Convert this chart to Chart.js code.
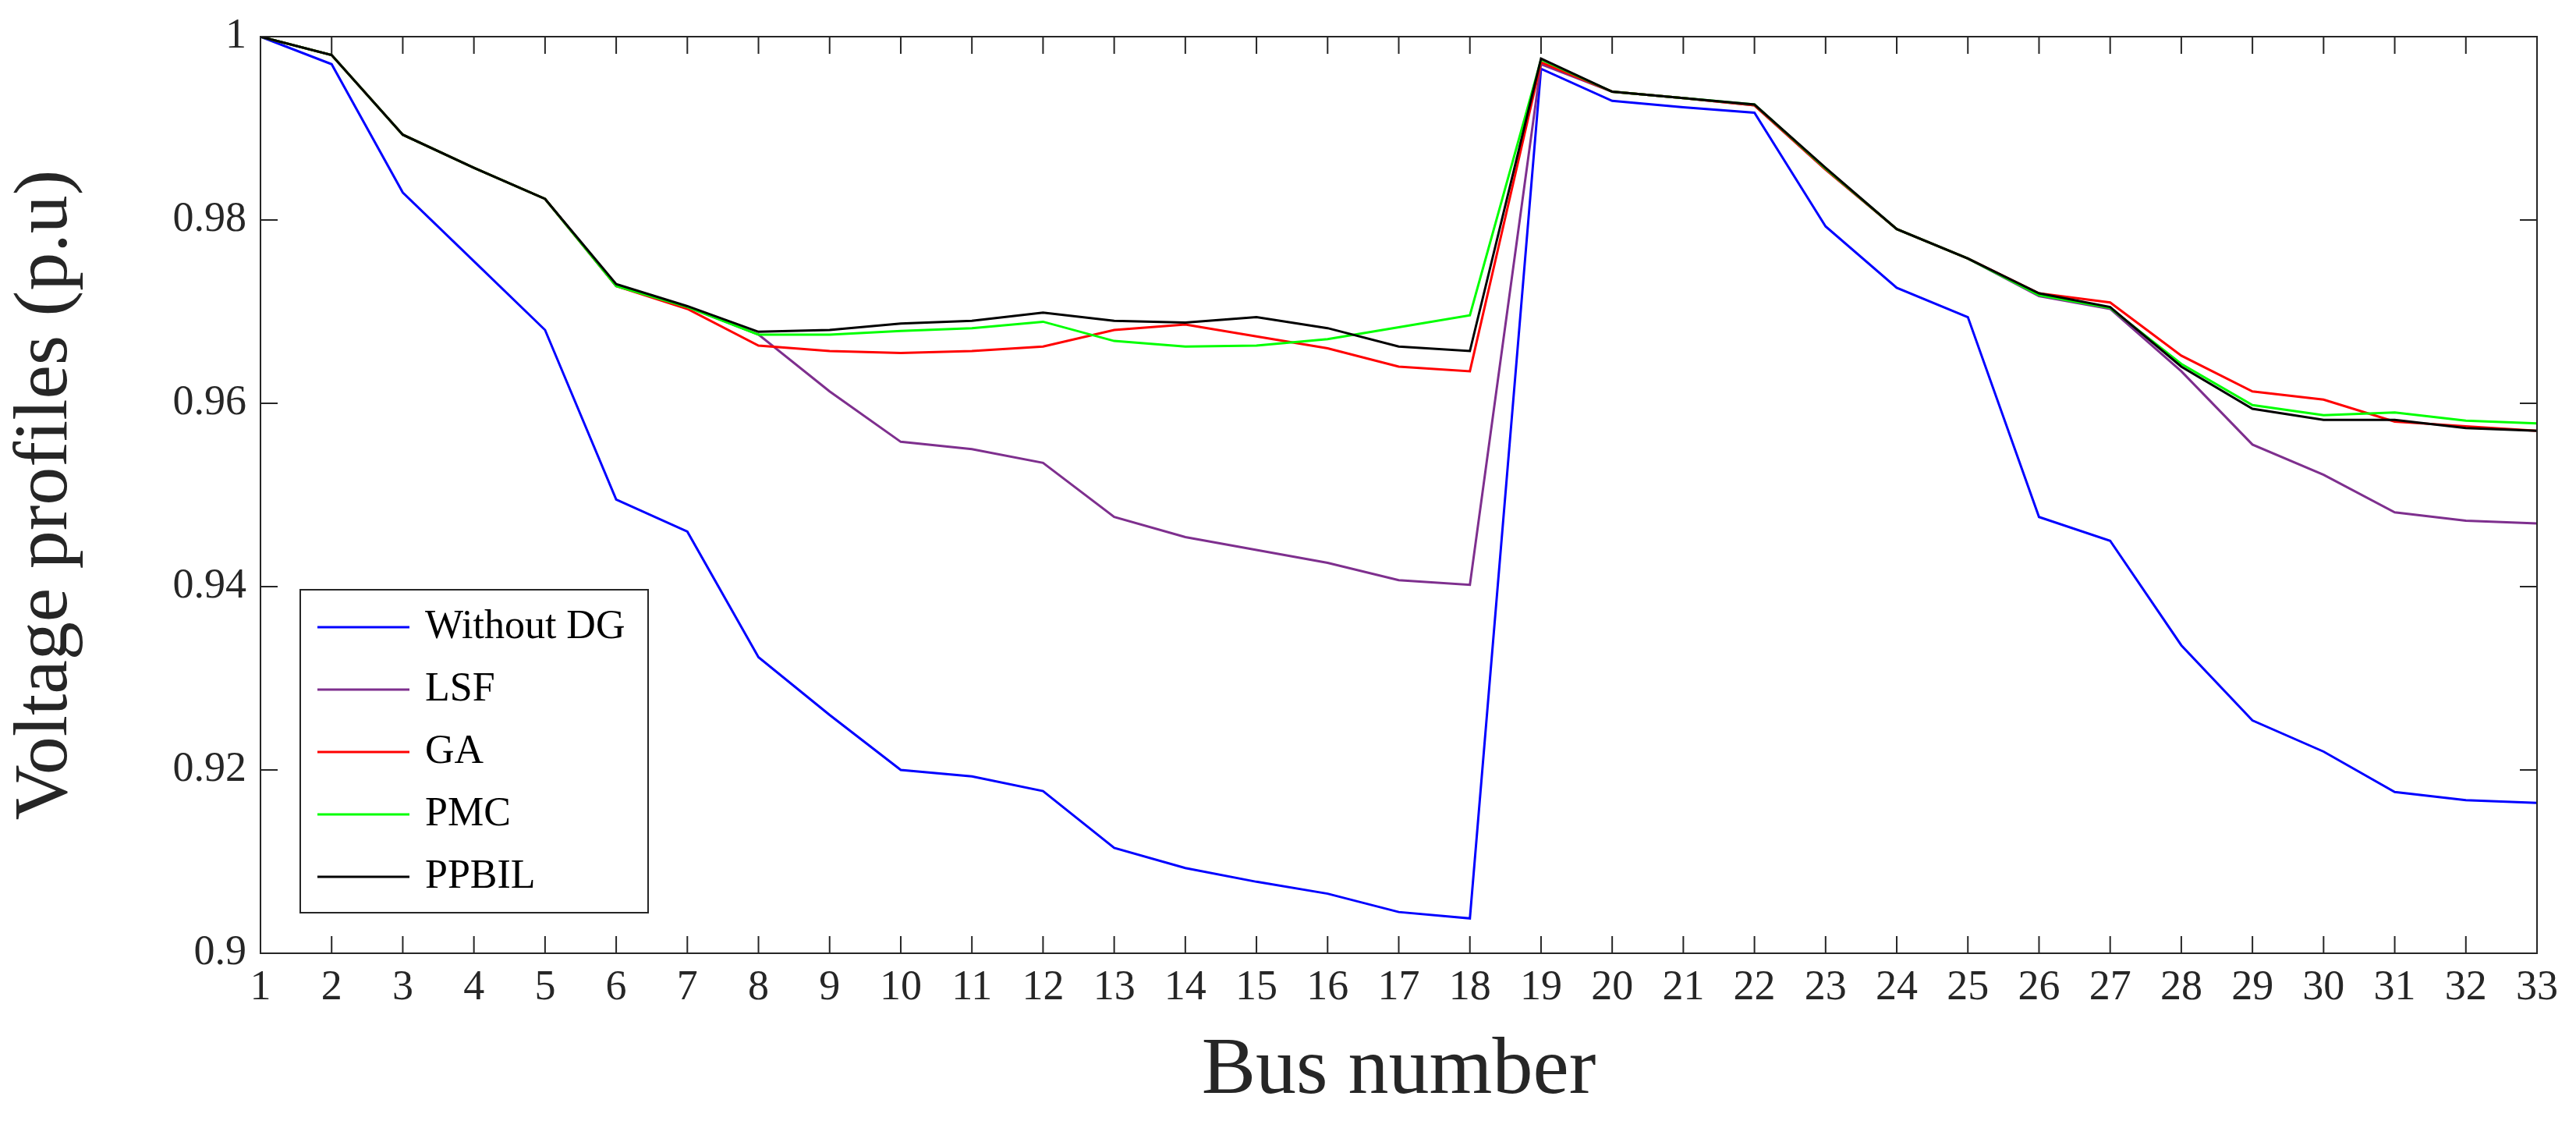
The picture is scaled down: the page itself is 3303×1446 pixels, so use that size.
<!DOCTYPE html>
<html>
<head>
<meta charset="utf-8">
<script src="https://cdn.jsdelivr.net/npm/chart.js@4/dist/chart.umd.min.js"></script>
<style>
  html, body { margin: 0; padding: 0; background: #fff; }
  #wrap { width: 3303px; height: 1446px; }
</style>
</head>
<body>
<div id="wrap"><canvas id="volt"></canvas></div>
<script>
const buses = Array.from({ length: 33 }, (_, i) => String(i + 1));

const withoutDG = [1.0, 0.997, 0.983, 0.9755, 0.968, 0.9495, 0.946, 0.9323, 0.926, 0.920, 0.9193, 0.9177, 0.9115,
    0.9093, 0.9078, 0.9065, 0.9045, 0.9038, 0.9965, 0.993, 0.9923, 0.9917, 0.9793, 0.9726, 0.9694, 0.9476, 0.945,
    0.9336, 0.9254, 0.922, 0.9176, 0.9167, 0.9164];
const lsf = [1.0, 0.998, 0.9893, 0.9857, 0.9823, 0.9728, 0.9705, 0.9675, 0.9613, 0.9558, 0.955, 0.9535, 0.9476,
    0.9454, 0.944, 0.9426, 0.9407, 0.9402, 0.997, 0.994, 0.9933, 0.9925, 0.9855, 0.979, 0.9758, 0.9717, 0.9703,
    0.9635, 0.9555, 0.9522, 0.9481, 0.9472, 0.9469];
const ga = [1.0, 0.998, 0.9893, 0.9857, 0.9823, 0.9728, 0.9703, 0.9663, 0.9657, 0.9655, 0.9657, 0.9662, 0.968,
    0.9686, 0.9673, 0.966, 0.964, 0.9635, 0.9972, 0.994, 0.9933, 0.9925, 0.9855, 0.979, 0.9758, 0.972, 0.971,
    0.9652, 0.9613, 0.9604, 0.958, 0.9575, 0.957];
const pmc = [1.0, 0.998, 0.9893, 0.9857, 0.9823, 0.9728, 0.9705, 0.9675, 0.9675, 0.9679, 0.9682, 0.9689, 0.9668,
    0.9662, 0.9663, 0.967, 0.9683, 0.9696, 0.9975, 0.994, 0.9933, 0.9926, 0.9856, 0.979, 0.9758, 0.9718, 0.9704,
    0.9643, 0.9598, 0.9587, 0.959, 0.9581, 0.9578];
const ppbil = [1.0, 0.998, 0.9893, 0.9857, 0.9823, 0.973, 0.9706, 0.9678, 0.968, 0.9687, 0.969, 0.9699, 0.969,
    0.9688, 0.9694, 0.9682, 0.9662, 0.9657, 0.9976, 0.994, 0.9933, 0.9926, 0.9857, 0.979, 0.9758, 0.972, 0.9705,
    0.964, 0.9594, 0.9582, 0.9582, 0.9573, 0.957];

const seriesNames = ["Without DG", "LSF", "GA", "PMC", "PPBIL"];
const seriesColors = ["#0000ff", "#7e2f8e", "#ff0000", "#00ff00", "#000000"];
const seriesValues = [withoutDG, lsf, ga, pmc, ppbil];
const yTicks = [0.9, 0.92, 0.94, 0.96, 0.98, 1];

const FONT = "'Liberation Serif', 'Times New Roman', serif";

// frame, inward ticks and an inside legend like MATLAB
const framePlugin = {
    id: "frame",
    afterDraw(chart) {
        const { ctx, chartArea: a, scales } = chart;
        ctx.save();
        ctx.strokeStyle = "#262626";
        ctx.lineWidth = 2;
        ctx.strokeRect(a.left, a.top, a.right - a.left, a.bottom - a.top);
        const t = 22;
        ctx.beginPath();
        buses.forEach((b, i) => {
            const x = scales.x.getPixelForValue(i);
            ctx.moveTo(x, a.bottom); ctx.lineTo(x, a.bottom - t);
            ctx.moveTo(x, a.top); ctx.lineTo(x, a.top + t);
        });
        yTicks.forEach(v => {
            const y = scales.y.getPixelForValue(v);
            ctx.moveTo(a.left, y); ctx.lineTo(a.left + t, y);
            ctx.moveTo(a.right, y); ctx.lineTo(a.right - t, y);
        });
        ctx.stroke();

        // legend box
        const bx = 385, by = 756, bw = 446, bh = 414;
        ctx.fillStyle = "#fff";
        ctx.fillRect(bx, by, bw, bh);
        ctx.strokeStyle = "#262626";
        ctx.lineWidth = 2;
        ctx.strokeRect(bx, by, bw, bh);
        ctx.font = "52px " + FONT;
        ctx.textBaseline = "middle";
        chart.data.datasets.forEach((ds, i) => {
            const y = by + 48 + i * 80;
            ctx.strokeStyle = ds.borderColor;
            ctx.lineWidth = 3;
            ctx.beginPath();
            ctx.moveTo(bx + 22, y); ctx.lineTo(bx + 140, y);
            ctx.stroke();
            ctx.fillStyle = "#000";
            ctx.fillText(ds.label, bx + 160, y);
        });
        ctx.restore();
    }
};

new Chart(document.getElementById("volt"), {
    type: "line",
    data: {
        labels: buses,
        datasets: seriesNames.map((name, i) => ({
            label: name,
            data: seriesValues[i],
            borderColor: seriesColors[i],
            borderWidth: 3,
            pointRadius: 0,
            tension: 0,
            fill: false,
            order: seriesNames.length - i
        }))
    },
    options: {
        responsive: true,
        maintainAspectRatio: false,
        animation: false,
        layout: { padding: { top: 47, right: 50, left: 0, bottom: 0 } },
        plugins: { legend: { display: false }, tooltip: { enabled: false } },
        scales: {
            x: {
                grid: { display: false },
                border: { display: false },
                ticks: { color: "#262626", font: { family: FONT, size: 54 }, maxRotation: 0, autoSkip: false, padding: 4 },
                title: { display: true, text: "Bus number", color: "#262626", font: { family: FONT, size: 104 }, padding: { top: 0, bottom: 10 } },
                afterFit: s => { s.height = 224; }
            },
            y: {
                min: 0.9,
                max: 1,
                afterBuildTicks: s => { s.ticks = yTicks.map(v => ({ value: v })); },
                grid: { display: false },
                border: { display: false },
                ticks: { color: "#262626", font: { family: FONT, size: 54 }, padding: 10,
                    callback: v => String(Math.round(v * 100) / 100) },
                title: { display: true, text: "Voltage profiles (p.u)", color: "#262626", font: { family: FONT, size: 98 }, padding: 0 },
                afterFit: s => { s.width = 334; }
            }
        }
    },
    plugins: [framePlugin]
});
</script>
</body>
</html>
